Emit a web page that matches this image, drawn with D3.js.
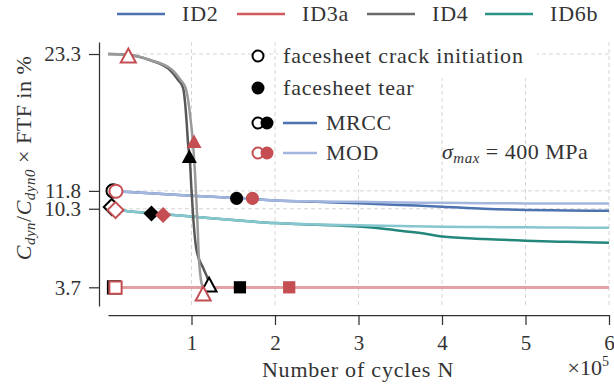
<!DOCTYPE html>
<html>
<head>
<meta charset="utf-8">
<script src="https://cdn.jsdelivr.net/npm/d3@7"></script>
<style>
    body { margin: 0; background: #fff; }
    svg { display: block; }
    .axis path, .axis line { stroke: #333; stroke-width: 1.25; }
    .axis text { fill: #333; font-size: 21px; }
    .grid { stroke: #d6d6d6; stroke-width: 1; stroke-dasharray: 4,3; fill: none; }
    .label { fill: #333; font-size: 22px; }
</style>
</head>
<body>
<script>
//cycles are in units of 1e5, values in %
var xTicks = [1, 2, 3, 4, 5, 6];
var yTicks = [3.7, 10.3, 11.8, 23.3];
var seriesNames = ["ID2", "ID3a", "ID4", "ID6b"];

//ID2
var id2Mrcc = [[0, 11.8], [0.5, 11.6], [1.0, 11.4], [1.5, 11.2], [2.0, 11.0], [2.5, 10.88], [3.0, 10.77], [3.5, 10.62], [4.0, 10.47], [4.5, 10.3], [5.0, 10.2], [5.5, 10.16], [6.0, 10.13]];
var id2Mod = [[0, 11.8], [0.5, 11.6], [1.0, 11.4], [1.5, 11.2], [2.0, 11.0], [2.5, 10.92], [3.0, 10.88], [3.5, 10.83], [4.0, 10.8], [4.5, 10.77], [5.0, 10.75], [5.5, 10.75], [6.0, 10.75]];
//ID3a
var id3aMrcc = [[0, 3.7], [1, 3.7], [2, 3.7], [3, 3.7], [4, 3.7], [5, 3.7], [6, 3.7]];
var id3aMod = [[0, 3.7], [1, 3.7], [2, 3.7], [3, 3.7], [4, 3.7], [5, 3.7], [6, 3.7]];
//ID4
var id4Mrcc = [[0, 23.3], [0.2, 23.26], [0.5, 22.8], [0.74, 21.96], [0.84, 21.12], [0.9, 20.44], [0.92, 19.43], [0.94, 17.75], [0.96, 15.65], [0.98, 14.39], [1.0, 11.87], [1.02, 9.63], [1.06, 6.83], [1.14, 5.32], [1.2, 4.31], [1.22, 3.8]];
var id4Mod = [[0, 23.3], [0.2, 23.26], [0.5, 22.8], [0.77, 21.96], [0.87, 21.12], [0.93, 20.44], [0.96, 19.43], [0.99, 17.75], [1.02, 15.65], [1.04, 13.55], [1.07, 9.35], [1.09, 5.99], [1.11, 4.48], [1.14, 3.63]];
//ID6b
var id6bMrcc = [[0, 10.3], [0.3, 10.05], [0.6, 9.88], [1.0, 9.65], [1.5, 9.35], [2.0, 9.1], [2.5, 8.95], [3.0, 8.8], [3.3, 8.62], [3.5, 8.45], [3.8, 8.2], [4.0, 7.97], [4.5, 7.76], [5.0, 7.62], [5.5, 7.52], [6.0, 7.44]];
var id6bMod = [[0, 10.3], [0.3, 10.05], [0.6, 9.88], [1.0, 9.65], [1.5, 9.35], [2.0, 9.1], [2.5, 8.98], [3.0, 8.92], [3.5, 8.85], [4.0, 8.78], [4.5, 8.76], [5.0, 8.74], [5.5, 8.72], [6.0, 8.70]];

//failure markers [cycles, value, shape]
var mrccInit = [[0.06, 11.8, "circle"], [0.045, 10.45, "diamond"], [0.072, 3.7, "square"], [1.21, 3.89, "triangle"]];
var modInit = [[0.095, 11.77, "circle"], [0.09, 10.19, "diamond"], [0.09, 3.67, "square"], [0.243, 23.13, "triangle"], [1.14, 3.13, "triangle"]];
var mrccTear = [[1.54, 11.17, "circle"], [0.52, 9.91, "diamond"], [1.58, 3.7, "square"], [0.974, 14.67, "triangle"]];
var modTear = [[1.73, 11.17, "circle"], [0.66, 9.77, "diamond"], [2.17, 3.7, "square"], [1.03, 15.93, "triangle"]];

(function (){

    var width = 614,
        height = 388,
        serif = "'Liberation Serif', 'Times New Roman', serif";

    var colors = {
        ID2: ["#4c72b0", "#a3b6de"],
        ID3a: ["#c44e52", "#e3a0a2"],
        ID4: ["#585858", "#9a9a9a"],
        ID6b: ["#24877c", "#86c6cf"]
    };
    var legendColors = ["#4c72b0", "#d05a5e", "#6a6a6a", "#2a9386"];
    var black = "#000",
        red = "#c44e52";

    var svg = d3.select("body")
        .append("svg")
        .attr("width", width)
        .attr("height", height)
        .style("font-family", serif);

    //scales
    var x = d3.scaleLinear().domain([0, 6]).range([108, 609]);
    var y = d3.scaleLinear().domain([2.13, 24.31]).range([306, 42]);

    //grid
    svg.selectAll(".gridX")
        .data(xTicks)
        .enter()
        .append("line")
        .attr("class", "grid")
        .attr("x1", function(d){ return x(d); })
        .attr("x2", function(d){ return x(d); })
        .attr("y1", y.range()[1])
        .attr("y2", y.range()[0]);

    svg.selectAll(".gridY")
        .data(yTicks)
        .enter()
        .append("line")
        .attr("class", "grid")
        .attr("x1", x.range()[0])
        .attr("x2", x.range()[1])
        .attr("y1", function(d){ return y(d); })
        .attr("y2", function(d){ return y(d); });

    //white legend backgrounds hiding grid
    svg.append("rect").attr("x", 278).attr("y", 42).attr("width", 259).attr("height", 36).attr("fill", "#fff");
    svg.append("rect").attr("x", 278).attr("y", 78).attr("width", 142).attr("height", 92).attr("fill", "#fff");

    //axes
    var yAxis = d3.axisLeft(y)
        .tickValues(yTicks)
        .tickFormat(d3.format(".1f"))
        .tickSize(10)
        .tickPadding(8)
        .tickSizeOuter(0);

    svg.append("g")
        .attr("class", "axis")
        .attr("transform", "translate(99,0)")
        .call(yAxis)
        .selectAll("text")
        .style("font-family", serif);

    var xAxis = d3.axisBottom(x)
        .tickValues(xTicks)
        .tickFormat(d3.format("d"))
        .tickSize(10)
        .tickPadding(10)
        .tickSizeOuter(0);

    svg.append("g")
        .attr("class", "axis")
        .attr("transform", "translate(0,315)")
        .call(xAxis)
        .selectAll("text")
        .style("font-family", serif);

    //lines
    var line = d3.line()
        .x(function(d){ return x(d[0]); })
        .y(function(d){ return y(d[1]); })
        .curve(d3.curveMonotoneX);

    var series = [
        [id3aMrcc, colors.ID3a[0]], [id3aMod, colors.ID3a[1]],
        [id2Mrcc, colors.ID2[0]], [id2Mod, colors.ID2[1]],
        [id6bMrcc, colors.ID6b[0]], [id6bMod, colors.ID6b[1]],
        [id4Mrcc, colors.ID4[0]], [id4Mod, colors.ID4[1]]
    ];

    svg.selectAll(".series")
        .data(series)
        .enter()
        .append("path")
        .attr("class", "series")
        .attr("d", function(d){ return line(d[0]); })
        .attr("fill", "none")
        .attr("stroke", function(d){ return d[1]; })
        .attr("stroke-width", 2.5);

    //marker shapes
    function shapePath(shape){
        if (shape == "circle") return d3.symbol(d3.symbolCircle, 135)();
        if (shape == "square") return d3.symbol(d3.symbolSquare, 150)();
        if (shape == "diamond") return d3.symbol(d3.symbolSquare, 128)();
        var h = 7.5;
        return "M0," + (-h) + "L" + h + "," + (h * 0.85) + "L" + (-h) + "," + (h * 0.85) + "Z";
    }

    function drawMarkers(data, color, filled){
        svg.append("g")
            .selectAll("path")
            .data(data)
            .enter()
            .append("path")
            .attr("d", function(d){ return shapePath(d[2]); })
            .attr("transform", function(d){
                return "translate(" + x(d[0]) + "," + y(d[1]) + ")" + (d[2] == "diamond" ? " rotate(45)" : "");
            })
            .attr("fill", filled ? color : "#fff")
            .attr("stroke", color)
            .attr("stroke-width", filled ? 0 : 2);
    }

    drawMarkers(mrccInit, black, false);
    drawMarkers(modInit, red, false);
    drawMarkers(mrccTear, black, true);
    drawMarkers(modTear, red, true);

    //top legend
    var legendX = [117, 237, 367, 485];
    var topLegend = svg.append("g");
    seriesNames.forEach(function(name, i){
        topLegend.append("line")
            .attr("x1", legendX[i]).attr("x2", legendX[i] + 48)
            .attr("y1", 14).attr("y2", 14)
            .attr("stroke", legendColors[i])
            .attr("stroke-width", 2.5);
        topLegend.append("text")
            .attr("class", "label")
            .attr("x", legendX[i] + 65)
            .attr("y", 21)
            .attr("letter-spacing", 0.8)
            .text(name);
    });

    //marker legend
    var mid = svg.append("g");
    mid.append("circle").attr("cx", 258).attr("cy", 56).attr("r", 5.5)
        .attr("fill", "#fff").attr("stroke", black).attr("stroke-width", 2);
    mid.append("text").attr("class", "label").attr("x", 283).attr("y", 63)
        .attr("letter-spacing", 0.8).text("facesheet crack initiation");
    mid.append("circle").attr("cx", 258).attr("cy", 88).attr("r", 6.5).attr("fill", black);
    mid.append("text").attr("class", "label").attr("x", 283).attr("y", 95)
        .attr("letter-spacing", 0.8).text("facesheet tear");

    [[123, black, colors.ID2[0], "MRCC"], [153, red, colors.ID2[1], "MOD"]].forEach(function(r){
        mid.append("circle").attr("cx", 258).attr("cy", r[0]).attr("r", 5.5)
            .attr("fill", "#fff").attr("stroke", r[1]).attr("stroke-width", 2);
        mid.append("circle").attr("cx", 267).attr("cy", r[0]).attr("r", 6.5).attr("fill", r[1]);
        mid.append("line").attr("x1", 283).attr("x2", 317).attr("y1", r[0]).attr("y2", r[0])
            .attr("stroke", r[2]).attr("stroke-width", 2.5);
        mid.append("text").attr("class", "label").attr("x", 326).attr("y", r[0] + 7)
            .attr("letter-spacing", 0.5).text(r[3]);
    });

    //sigma annotation
    var sig = svg.append("text").attr("class", "label").attr("x", 442).attr("y", 159)
        .attr("letter-spacing", 0.5);
    sig.append("tspan").attr("font-style", "italic").text("σ");
    sig.append("tspan").attr("font-style", "italic").attr("font-size", 15).attr("dy", 4).text("max");
    sig.append("tspan").attr("dy", -4).text(" = 400 MPa");

    //axis labels
    svg.append("text")
        .attr("class", "label")
        .attr("x", 358)
        .attr("y", 377)
        .attr("text-anchor", "middle")
        .attr("letter-spacing", 0.8)
        .text("Number of cycles N");

    var pow = svg.append("text").attr("class", "label").attr("x", 609).attr("y", 375)
        .attr("text-anchor", "end").attr("font-size", 20);
    pow.append("tspan").text("×10");
    pow.append("tspan").attr("font-size", 14).attr("dy", -9).text("5");

    var yl = svg.append("text")
        .attr("class", "label")
        .attr("transform", "translate(31,158) rotate(-90)")
        .attr("text-anchor", "middle")
        .attr("letter-spacing", 0.5);
    yl.append("tspan").attr("font-style", "italic").text("C");
    yl.append("tspan").attr("font-style", "italic").attr("font-size", 15).attr("dy", 4).text("dyn");
    yl.append("tspan").attr("dy", -4).text("/");
    yl.append("tspan").attr("font-style", "italic").text("C");
    yl.append("tspan").attr("font-style", "italic").attr("font-size", 15).attr("dy", 4).text("dyn0");
    yl.append("tspan").attr("dy", -4).text(" × FTF in %");

})();
</script>
</body>
</html>
